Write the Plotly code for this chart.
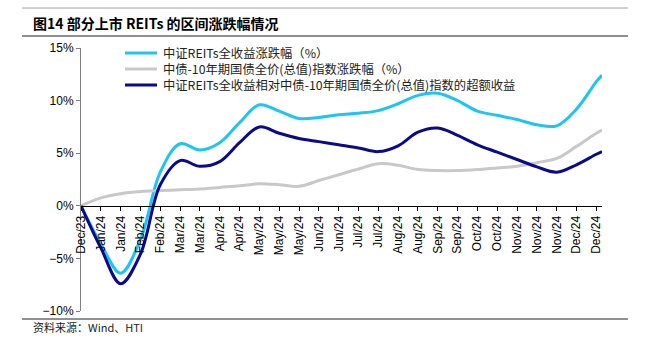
import plotly.graph_objects as go
import pandas as pd

# ---- data ----
dates = list(pd.date_range("2023-12-29", periods=27, freq="14D").strftime("%Y-%m-%d")) + ["2024-12-31"]

reits = [0.0, -3.6, -6.4, -3.2, 3.2, 5.9, 5.3, 6.0, 7.9, 9.6, 9.0, 8.3, 8.4, 8.65,
         8.8, 9.05, 9.7, 10.5, 10.7, 10.0, 9.0, 8.6, 8.2, 7.7, 7.6, 9.2, 11.8, 12.4]
bond = [0.0, 0.75, 1.15, 1.36, 1.45, 1.52, 1.6, 1.75, 1.9, 2.1, 2.0, 1.85, 2.4, 2.95,
        3.5, 4.0, 3.85, 3.45, 3.35, 3.35, 3.45, 3.6, 3.75, 4.1, 4.5, 5.65, 6.9, 7.2]
excess = [0.0, -4.0, -7.4, -4.6, 2.0, 4.3, 3.75, 4.2, 6.0, 7.5, 6.9, 6.4, 6.1, 5.8,
          5.5, 5.15, 5.7, 7.0, 7.4, 6.7, 5.8, 5.1, 4.4, 3.7, 3.2, 3.9, 4.9, 5.15]

names = ["中证REITs全收益涨跌幅（%）",
         "中债-10年期国债全价(总值)指数涨跌幅（%）",
         "中证REITs全收益相对中债-10年期国债全价(总值)指数的超额收益"]
colors = ["#1EC4F4", "#C8C8C8", "#0B0B8A"]

title_text = "图14 部分上市 REITs 的区间涨跌幅情况"
source_text = "资料来源：Wind、HTI"

# ---- layout geometry (pixels) ----
W, H = 650, 338
L, R, T, B = 81, 602, 48, 311

def px(x):
    return (x - L) / (R - L)

def py(y):
    return (B - y) / (B - T)

fig = go.Figure()
for vals, nm, col in zip([reits, bond, excess], names, colors):
    fig.add_trace(go.Scatter(x=dates, y=vals, name=nm, mode="lines", showlegend=False,
                             line=dict(color=col, width=3, shape="spline", smoothing=1.0)))

fig.update_layout(
    width=W, height=H,
    margin=dict(l=L, r=W - R, t=T, b=H - B),
    paper_bgcolor="white", plot_bgcolor="white",
    font=dict(family="Liberation Sans, Arial, sans-serif", size=12, color="black"),
    showlegend=False,
    xaxis=dict(type="date", range=["2023-12-29", "2024-12-31"],
               tick0="2023-12-29", dtick=14 * 24 * 3600 * 1000,
               tickformat="%b/%y", tickangle=-90,
               showgrid=False, zeroline=False,
               showline=True, linecolor="black", linewidth=1,
               ticks="outside", ticklen=4, tickcolor="black",
               anchor="free", position=py(206),
               tickfont=dict(size=12, family="Liberation Sans, Arial, sans-serif")),
    yaxis=dict(range=[-10, 15], dtick=5, ticksuffix="%",
               showgrid=False, zeroline=False,
               showline=True, linecolor="#808080", linewidth=1,
               ticks="outside", ticklen=4, tickcolor="#808080",
               tickfont=dict(size=12, family="Liberation Sans, Arial, sans-serif")),
)

# legend drawn by hand (tighter row spacing than plotly's legend allows)
row_gap = 16
for k, col in enumerate(colors):
    yy = 53 + row_gap * k
    fig.add_shape(type="line", xref="paper", yref="paper",
                  x0=px(125), x1=px(157), y0=py(yy), y1=py(yy),
                  line=dict(color=col, width=3))
fig.add_annotation(text="<br>".join(names), xref="paper", yref="paper",
                   x=px(162), y=py(53 + row_gap), xanchor="left", yanchor="middle",
                   align="left", showarrow=False, borderpad=0,
                   font=dict(family="Noto Sans CJK SC", size=12.3, color="#222"))

# frame lines and texts
for yy, col in [(8, "#A0A0A0"), (36, "#222222"), (319, "#222222")]:
    fig.add_shape(type="line", xref="paper", yref="paper",
                  x0=px(22), x1=px(628), y0=py(yy), y1=py(yy),
                  line=dict(color=col, width=1))

fig.add_annotation(text="<b>" + title_text + "</b>", xref="paper", yref="paper",
                   x=px(31), y=py(23), xanchor="left", yanchor="middle", showarrow=False,
                   font=dict(family="Noto Sans CJK SC", size=14, color="black"))
fig.add_annotation(text=source_text, xref="paper", yref="paper",
                   x=px(31), y=py(327), xanchor="left", yanchor="middle", showarrow=False,
                   font=dict(family="Noto Sans CJK SC", size=11, color="#222"))

fig.write_html("out.html")
